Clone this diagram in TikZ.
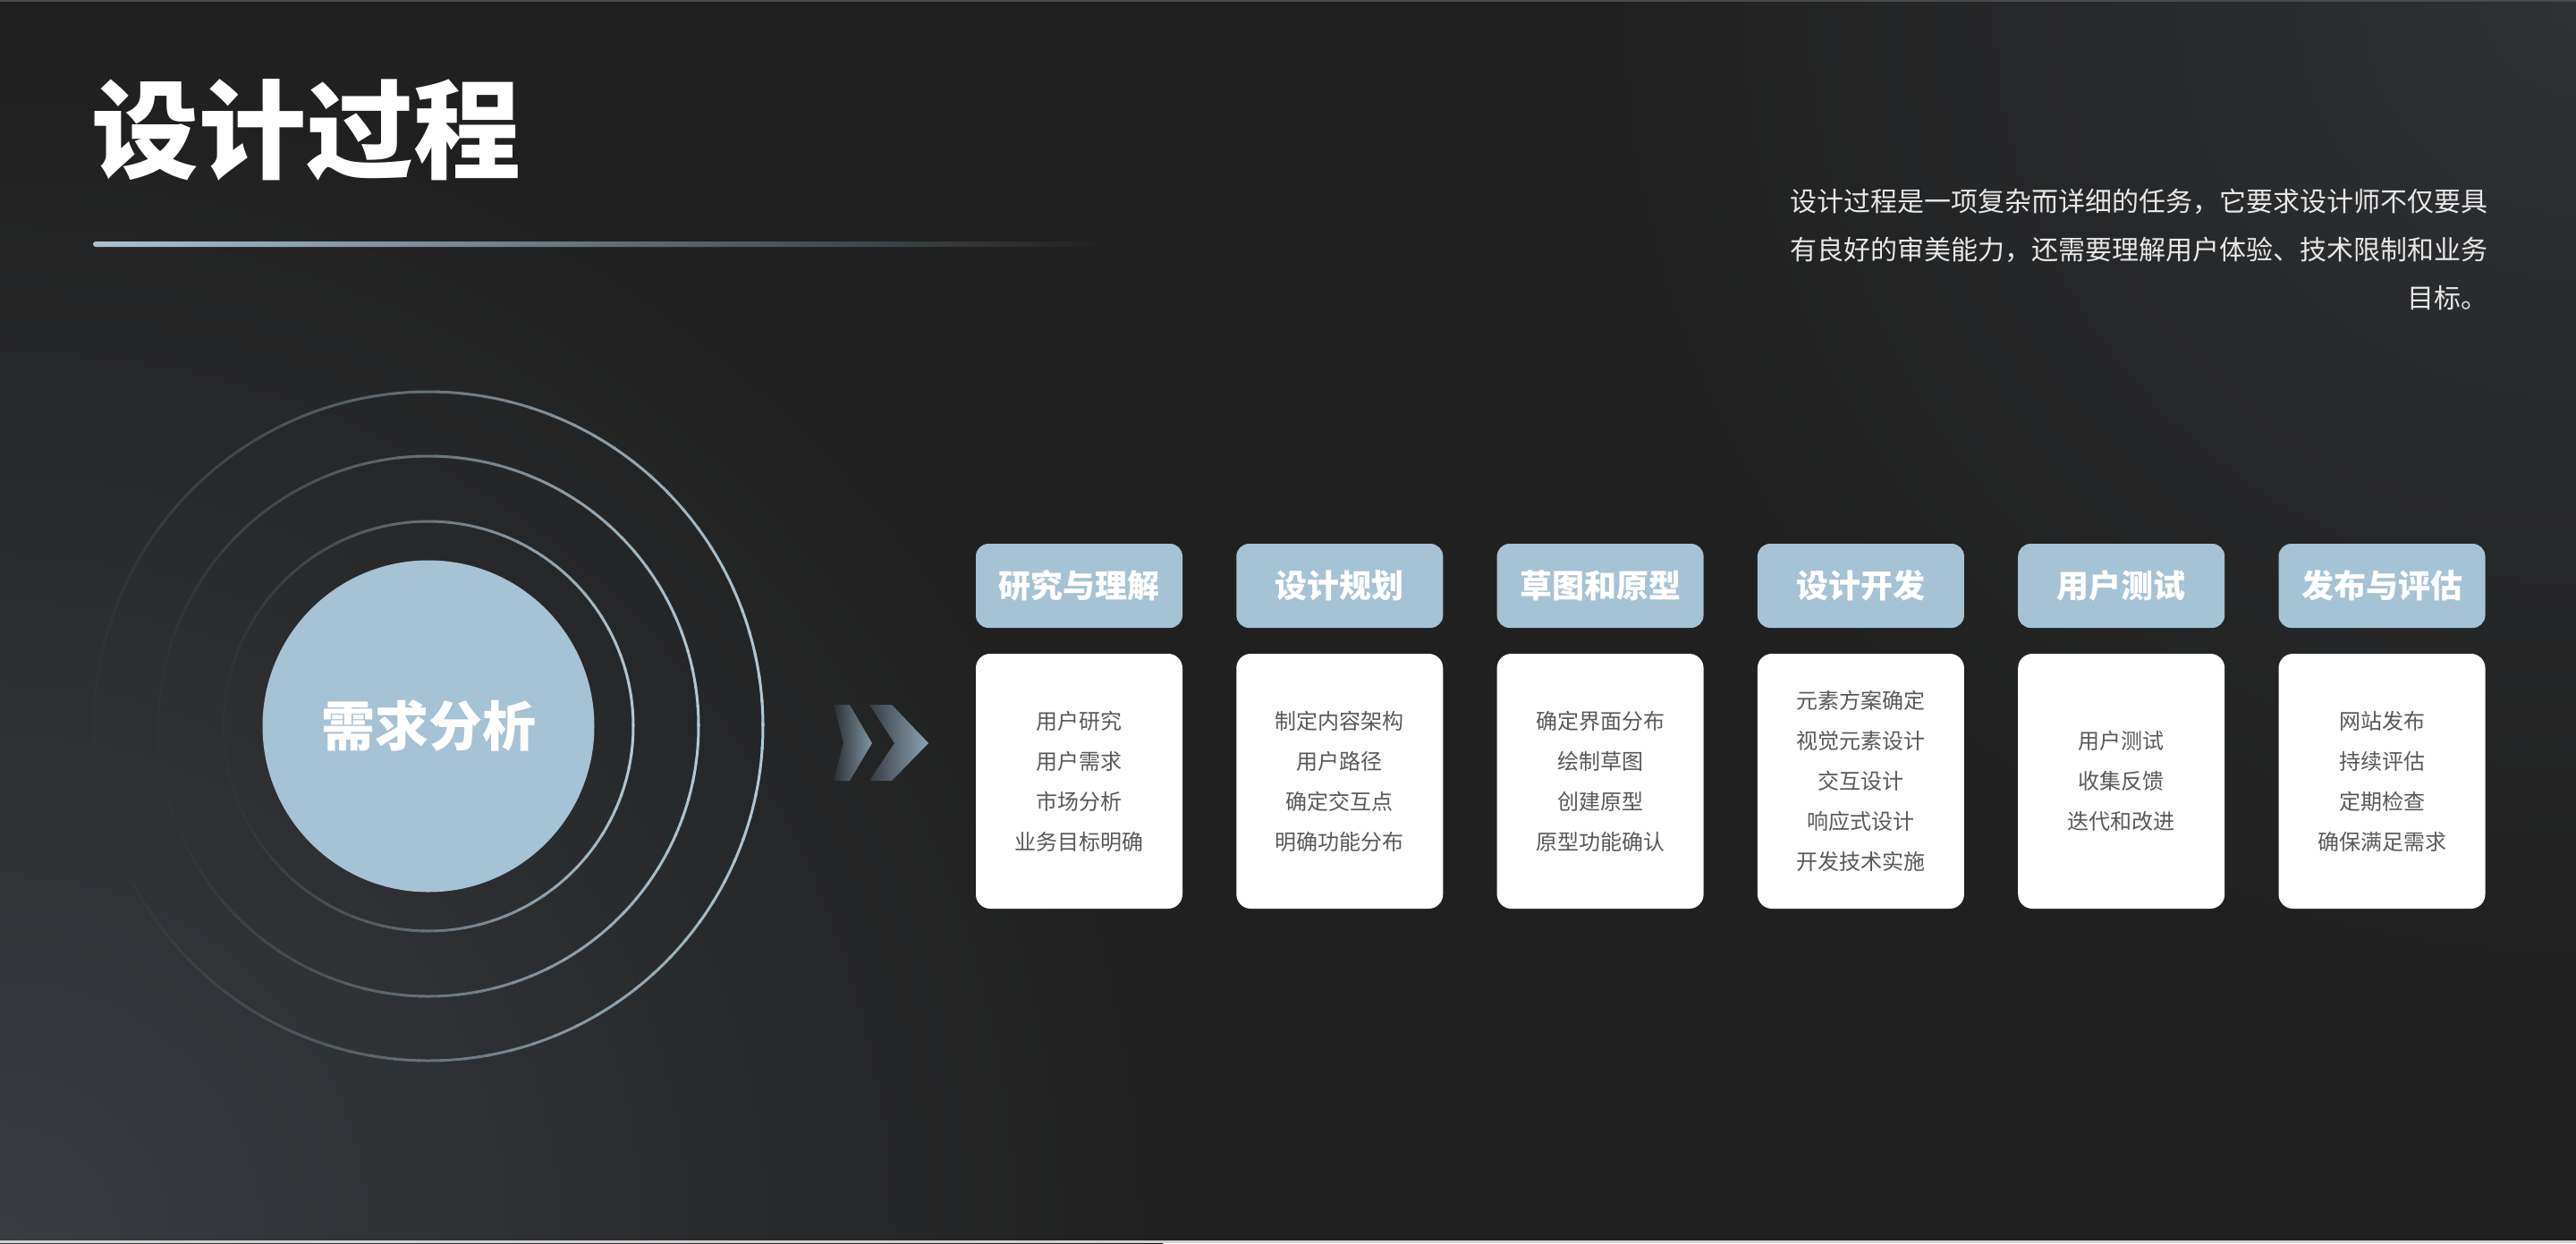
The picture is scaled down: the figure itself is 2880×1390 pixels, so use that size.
\documentclass[tikz,border=0pt]{standalone}
\usepackage{fontspec}
\setmainfont{Noto Sans CJK SC}
\usetikzlibrary{calc}
\definecolor{bgc}{HTML}{202020}
\definecolor{bluec}{HTML}{A6C2D5}
\definecolor{ringc}{HTML}{B2C8D6}
\definecolor{bodytxt}{HTML}{595959}
\definecolor{paratxt}{HTML}{E8E8E8}
\definecolor{glowa}{HTML}{383C41}
\definecolor{glowb}{HTML}{2E3033}
\definecolor{linec}{HTML}{A9C2D2}
\definecolor{edgec}{HTML}{4A4A4A}
\definecolor{edgeb}{HTML}{D0D0D0}
\definecolor{chda}{HTML}{2B2F34}
\definecolor{chla}{HTML}{8096A6}
\definecolor{chdb}{HTML}{353B42}
\definecolor{chlb}{HTML}{8DA4B5}
\begin{document}
\begin{tikzpicture}[x=1pt,y=-1pt,
  hdrbox/.style={fill=bluec, rounded corners=14pt, minimum width=231pt, minimum height=94pt,
    inner sep=0pt, text=white, font=\fontsize{36}{40}\selectfont\bfseries},
  bodybox/.style={fill=white, rounded corners=16pt, minimum width=231pt, minimum height=285pt,
    inner sep=0pt, text=bodytxt, align=center, font=\fontsize{24}{45}\selectfont},
  plain/.style={inner sep=0pt, outer sep=0pt}
]
\useasboundingbox (0,0) rectangle (2880,1390);
% background
\fill[bgc] (0,0) rectangle (2880,1390);
\begin{scope}
  \clip (0,0) rectangle (2880,1390);
  \shade[inner color=glowa, outer color=bgc] (0,1390) circle (1300pt);
  \shade[inner color=glowb, outer color=bgc] (2880,0) circle (1100pt);
\end{scope}
\fill[edgec] (0,0) rectangle (2880,2);
\fill[edgeb] (0,1387) rectangle (2880,1390);

% title
\node[plain, text=white, font=\fontsize{120}{130}\selectfont\bfseries] (title) at (342,145) {设计过程};
\shade[left color=linec, right color=bgc, rounded corners=3pt] (104,270) rectangle (1235,276);

% paragraph
\node[plain, anchor=east, align=right, text=paratxt, font=\fontsize{30}{54}\selectfont] (para) at (2781,279)
  {设计过程是一项复杂而详细的任务，它要求设计师不仅要具\\有良好的审美能力，还需要理解用户体验、技术限制和业务\\目标。};

% core circle and rings
\node[circle, fill=bluec, minimum size=371pt, inner sep=0pt, text=white,
  font=\fontsize{60}{66}\selectfont\bfseries] (core) at (479,812) {需求分析};
\foreach \r in {229,302,374} {
  \foreach \a in {0,4,...,356} {
    \pgfmathsetmacro\p{10+90*((1+cos(\a+2))/2)^1.2}
    \draw[color=ringc!\p!bgc, line width=3pt] (core.center) ++(\a:\r pt)
      arc[start angle=\a, end angle=\a+4.6, radius=\r pt];
  }
}

% chevrons
\shade[left color=chda, right color=chla] (932,788) -- (950,788) -- (975,831) -- (950,873) -- (932,873) -- (943,831) -- cycle;
\shade[left color=chdb, right color=chlb] (972,788) -- (997,788) -- (1038,831) -- (997,873) -- (972,873) -- (1000,831) -- cycle;

% columns
\node[hdrbox] (h1) at (1206.5,655) {研究与理解};
\node[hdrbox] (h2) at (1497.8,655) {设计规划};
\node[hdrbox] (h3) at (1789.1,655) {草图和原型};
\node[hdrbox] (h4) at (2080.4,655) {设计开发};
\node[hdrbox] (h5) at (2371.7,655) {用户测试};
\node[hdrbox] (h6) at (2663.0,655) {发布与评估};

\node[bodybox] (b1) at (1206.5,873.5) {用户研究\\用户需求\\市场分析\\业务目标明确};
\node[bodybox] (b2) at (1497.8,873.5) {制定内容架构\\用户路径\\确定交互点\\明确功能分布};
\node[bodybox] (b3) at (1789.1,873.5) {确定界面分布\\绘制草图\\创建原型\\原型功能确认};
\node[bodybox] (b4) at (2080.4,873.5) {元素方案确定\\视觉元素设计\\交互设计\\响应式设计\\开发技术实施};
\node[bodybox] (b5) at (2371.7,873.5) {用户测试\\收集反馈\\迭代和改进};
\node[bodybox] (b6) at (2663.0,873.5) {网站发布\\持续评估\\定期检查\\确保满足需求};
\end{tikzpicture}
\end{document}
